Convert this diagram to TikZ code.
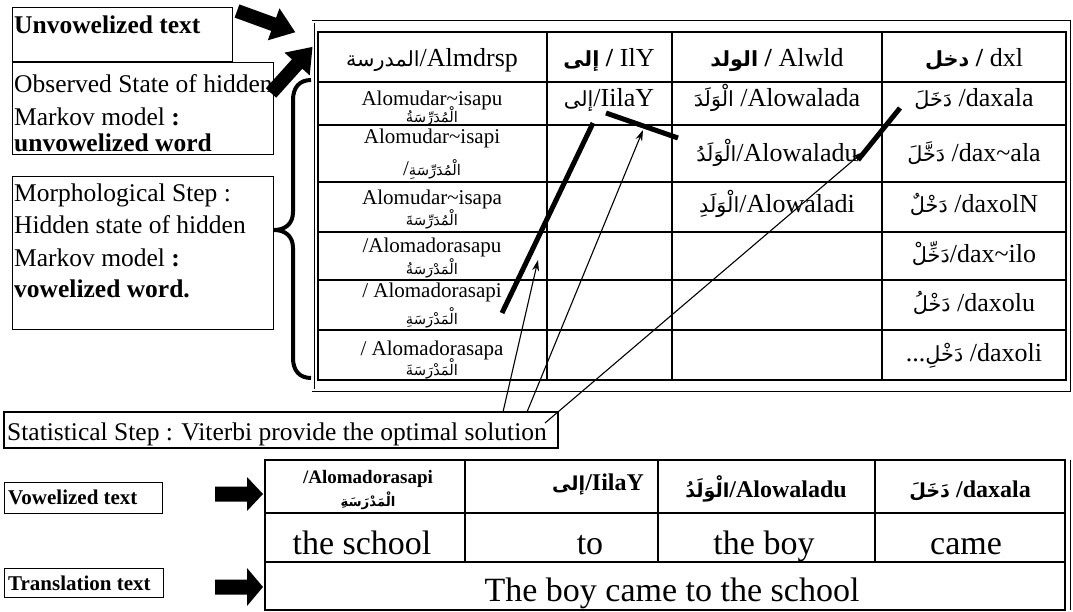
\documentclass[tikz,border=0pt]{standalone}
\usepackage{fontspec}
\setmainfont{Liberation Serif}
\newfontfamily\ar[Script=Arabic,Scale=0.8]{DejaVu Sans}
\newfontfamily\arS[Script=Arabic,Scale=0.7]{DejaVu Sans}
\TeXXeTstate=1
\usetikzlibrary{arrows.meta}
\newcommand\AR[1]{{\ar\beginR #1\endR}}
\newcommand\ARs[1]{{\arS\beginR #1\endR}}
\newcommand\fsz[1]{\fontsize{#1}{#1}\selectfont}
\newcommand\blockarrow[7]{% x,y,angle,length,headlen,headhalf,bodyhalf
  \fill[shift={(#1,#2)},rotate=#3] (0,-#7) -- ({#4-#5},-#7) -- ({#4-#5},-#6) -- (#4,0) -- ({#4-#5},#6) -- ({#4-#5},#7) -- (0,#7) -- cycle;}
\begin{document}
\begin{tikzpicture}[x=1pt,y=-1pt,
  box/.style={draw,line width=1pt},
  txt/.style={anchor=base west,inner sep=0pt},
  ctr/.style={anchor=base,inner sep=0pt},
  grid/.style={line width=1.5pt},
  vpath/.style={line width=5pt},
  thinarr/.style={line width=1.1pt,-{Stealth[length=11pt,width=7pt]}},
  fA/.style={font=\fsz{25.5}},
  fAb/.style={font=\fsz{25.5}\bfseries},
  fB/.style={font=\fsz{26}},
  fC/.style={font=\fsz{21}},
  fD/.style={font=\fsz{21}\bfseries},
  fE/.style={font=\fsz{19}\bfseries},
  fG/.style={font=\fsz{24}\bfseries},
  fF/.style={font=\fsz{34}}]
\useasboundingbox (0,0) rectangle (1073,612);
\fill[white] (0,0) rectangle (1073,612);

% ---- top-left boxes
\draw[box] (12,8) rectangle (232,62);
\node[txt,fAb] (unv) at (14,34) {Unvowelized text};
\draw[box] (12,63) rectangle (273,155);
\node[txt,fA] (obs1) at (14,93) {Observed State of hidden};
\node[txt,fA] (obs2) at (14,126) {Markov model \textbf{:}};
\node[txt,fAb] (obs3) at (14,152) {unvowelized word};
\draw[box] (12,177) rectangle (273,329);
\node[txt,fA] (mor1) at (14,202) {Morphological Step :};
\node[txt,fA] (mor2) at (14,234) {Hidden state of hidden};
\node[txt,fA] (mor3) at (14,267) {Markov model \textbf{:}};
\node[txt,fAb] (mor4) at (14,298) {vowelized word.};

% ---- brace
\draw[line width=4pt] (311,80) .. controls (299,80) and (293,88) .. (293,100) -- (293,212)
  .. controls (293,224) and (285,230) .. (274,230) .. controls (285,230) and (293,236) .. (293,248)
  -- (293,358) .. controls (293,370) and (299,378) .. (311,378);

% ---- top table
\draw[line width=0.8pt,double,double distance=1.4pt] (313,22) rectangle (1069,390);
\draw[grid] (318,32) rectangle (1066,380);
\foreach \yy in {82,125,182,232,280,330} \draw[grid] (318,\yy) -- (1066,\yy);
\foreach \xx in {547,672,882} \draw[grid] (\xx,32) -- (\xx,380);

% header
\node[ctr,fB] (h1) at (432,67) {\AR{المدرسة}/Almdrsp};
\node[ctr,fB] (h2) at (609,67) {\textbf{\AR{إلى} /} IlY};
\node[ctr,fB] (h3) at (777,67) {\textbf{\AR{الولد} /} Alwld};
\node[ctr,fB] (h4) at (974,67) {\textbf{\AR{دخل} /} dxl};
% column 1
\node[ctr,fC] (c1a) at (432,106) {Alomudar\textasciitilde isapu};
\node[ctr,fC] (c1b) at (432,123) {\ARs{الْمُدَرِّسَةُ}};
\node[ctr,fC] (c2a) at (432,144) {Alomudar\textasciitilde isapi};
\node[ctr,fC] (c2b) at (432,176) {/\ARs{الْمُدَرِّسَةِ}};
\node[ctr,fC] (c3a) at (432,205) {Alomudar\textasciitilde isapa};
\node[ctr,fC] (c3b) at (432,226) {\ARs{الْمُدَرِّسَةَ}};
\node[ctr,fC] (c4a) at (432,253) {/Alomadorasapu};
\node[ctr,fC] (c4b) at (432,275) {\ARs{الْمَدْرَسَةُ}};
\node[ctr,fC] (c5a) at (432,298) {/ Alomadorasapi};
\node[ctr,fC] (c5b) at (432,324) {\ARs{الْمَدْرَسَةِ}};
\node[ctr,fC] (c6a) at (432,355) {/ Alomadorasapa};
\node[ctr,fC] (c6b) at (432,375) {\ARs{الْمَدْرَسَةَ}};
% column 2
\node[ctr,fB] (d1) at (609,107) {\AR{إلى}/IilaY};
% column 3
\node[ctr,fB] (e1) at (777,107) {\AR{الْوَلَدَ} /Alowalada};
\node[ctr,fB] (e2) at (777,162) {\AR{الْوَلَدُ}/Alowaladu};
\node[ctr,fB] (e3) at (777,213) {\AR{الْوَلَدِ}/Alowaladi};
% column 4
\node[ctr,fB] (f1) at (974,107) {\AR{دَخَلَ} /daxala};
\node[ctr,fB] (f2) at (974,162) {\AR{دَخَّلَ} /dax\textasciitilde ala};
\node[ctr,fB] (f3) at (974,213) {\AR{دَخْلٌ} /daxolN};
\node[ctr,fB] (f4) at (974,262) {\AR{دَخِّلْ}/dax\textasciitilde ilo};
\node[ctr,fB] (f5) at (974,311) {\AR{دَخْلُ} /daxolu};
\node[ctr,fB] (f6) at (974,361) {...\AR{دَخْلِ} /daxoli};

% ---- big arrows top
\blockarrow{237}{11}{-20}{62}{23}{17}{7}
\blockarrow{271}{93}{48}{62}{23}{17}{7}

% ---- statistical step box
\draw[line width=2pt] (4,412) rectangle (558,448);
\node[txt,fA] (stat) at (7,440) {Statistical Step : Viterbi provide the optimal solution};

% ---- Viterbi path
\coordinate (v1a) at (502,313); \coordinate (v1b) at (593,123);
\coordinate (v2a) at (606,113); \coordinate (v2b) at (678,138);
\coordinate (v3a) at (900,108); \coordinate (v3b) at (858,160);
\draw[vpath] (v1a) -- (v1b);
\draw[vpath] (v2a) -- (v2b);
\draw[vpath] (v3a) -- (v3b);
\coordinate (s1) at (503,412); \coordinate (t1) at (538,260);
\coordinate (s2) at (527,412); \coordinate (t2) at (643,130);
\coordinate (s3) at (545,423); \coordinate (t3) at (863,152);
\draw[thinarr] (s1) -- (t1);
\draw[thinarr] (s2) -- (t2);
\draw[thinarr] (s3) -- (t3);

% ---- bottom
\draw[box] (4,482) rectangle (162,513);
\node[txt,fD] (vow) at (8,504) {Vowelized text};
\draw[box] (4,568) rectangle (163,597);
\node[txt,fD] (tra) at (8,590) {Translation text};
\blockarrow{215}{494}{0}{48}{16}{17}{7.5}
\blockarrow{215}{587}{0}{48}{16}{19}{7.5}

\draw[grid] (265,460) rectangle (1065,610);
\draw[line width=1pt] (1070,460) -- (1070,610);
\draw[grid] (265,513) -- (1065,513);
\draw[grid] (265,562) -- (1065,562);
\foreach \xx in {465,658,875} \draw[grid] (\xx,460) -- (\xx,562);
\node[ctr,fE] (b1a) at (368,483) {/Alomadorasapi};
\node[ctr,fE] (b1b) at (368,506) {\ARs{الْمَدْرَسَةِ}};
\node[ctr,fG] (b2) at (598,490) {\AR{إلى}/IilaY};
\node[ctr,fG] (b3) at (766,497) {\AR{الْوَلَدُ}/Alowaladu};
\node[ctr,fG] (b4) at (970,497) {\AR{دَخَلَ} /daxala};
\node[ctr,fF] (g1) at (362,554) {the school};
\node[ctr,fF] (g2) at (590,554) {to};
\node[ctr,fF] (g3) at (764,554) {the boy};
\node[ctr,fF] (g4) at (966,554) {came};
\node[ctr,fF] (tr) at (672,601) {The boy came to the school};
\end{tikzpicture}
\end{document}
